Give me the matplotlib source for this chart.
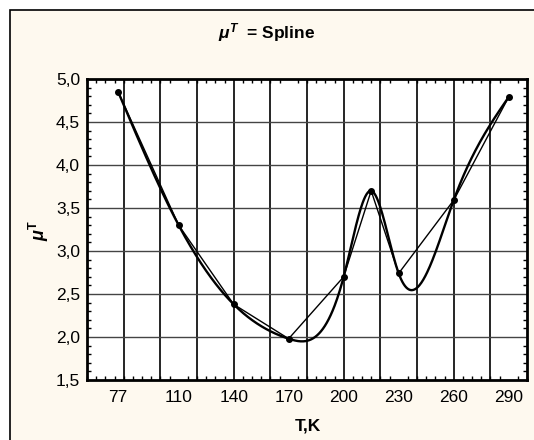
import numpy as np
import matplotlib
matplotlib.use("Agg")
import matplotlib.pyplot as plt
from matplotlib.ticker import MultipleLocator, FixedLocator, FuncFormatter

# ---- data ----
temps = [77, 110, 140, 170, 200, 215, 230, 260, 290]
mu_t = [4.85, 3.30, 2.38, 1.98, 2.70, 3.70, 2.74, 3.59, 4.79]
x_tick_labels = [77, 110, 140, 170, 200, 230, 260, 290]
y_ticks = [1.5, 2.0, 2.5, 3.0, 3.5, 4.0, 4.5, 5.0]

plt.rcParams['font.family'] = ['Liberation Sans', 'DejaVu Sans']
plt.rcParams['mathtext.fontset'] = 'custom'
plt.rcParams['mathtext.rm'] = 'Liberation Sans'
plt.rcParams['mathtext.bf'] = 'Liberation Sans:bold'
plt.rcParams['mathtext.it'] = 'Liberation Sans:italic'
plt.rcParams['mathtext.bfit'] = 'Liberation Sans:bold:italic'


def natural_spline(x, y, xs):
    x = np.asarray(x, float); y = np.asarray(y, float)
    n = len(x)
    h = np.diff(x)
    A = np.zeros((n, n)); b = np.zeros(n)
    A[0, 0] = 1; A[-1, -1] = 1
    for i in range(1, n - 1):
        A[i, i - 1] = h[i - 1]
        A[i, i] = 2 * (h[i - 1] + h[i])
        A[i, i + 1] = h[i]
        b[i] = 3 * ((y[i + 1] - y[i]) / h[i] - (y[i] - y[i - 1]) / h[i - 1])
    c = np.linalg.solve(A, b)
    out = np.empty_like(xs)
    for k, xv in enumerate(xs):
        i = min(max(np.searchsorted(x, xv) - 1, 0), n - 2)
        bi = (y[i + 1] - y[i]) / h[i] - h[i] * (2 * c[i] + c[i + 1]) / 3
        di = (c[i + 1] - c[i]) / (3 * h[i])
        dx = xv - x[i]
        out[k] = y[i] + bi * dx + c[i] * dx ** 2 + di * dx ** 3
    return out


fig = plt.figure(figsize=(5.34, 4.40), dpi=100)
fig.patch.set_facecolor('white')
bg = plt.Rectangle((10 / 534, -0.01), 1.0, 1.0 - 10 / 440 + 0.01, transform=fig.transFigure,
                   facecolor='#fef9ef', edgecolor='black', linewidth=1.2, zorder=-10)
fig.patches.append(bg)

ax = fig.add_axes([87 / 534, 60 / 440, 440 / 534, 301 / 440])
ax.set_facecolor('white')

xs = np.linspace(temps[0], temps[-1], 600)
ys = natural_spline(temps, mu_t, xs)
ax.plot(xs, ys, color='black', lw=1.7, zorder=3)
ax.plot(temps, mu_t, color='black', lw=1.0, marker='o', ms=4, zorder=4)

ax.set_xlim(60, 300)
ax.set_ylim(1.5, 5.0)

for gx in range(80, 300, 20):
    ax.axvline(gx, color='black', lw=1.2, zorder=1)
for gy in y_ticks[1:-1]:
    ax.axhline(gy, color='#444444', lw=1.0, zorder=1)

ax.xaxis.set_major_locator(FixedLocator(x_tick_labels))
ax.set_xticklabels([str(v) for v in x_tick_labels])
ax.xaxis.set_minor_locator(MultipleLocator(5))
ax.yaxis.set_major_locator(FixedLocator(y_ticks))
ax.yaxis.set_major_formatter(FuncFormatter(lambda v, p: f"{v:.1f}".replace('.', ',')))
ax.yaxis.set_minor_locator(MultipleLocator(0.1))

ax.tick_params(axis='x', which='major', length=0, pad=7, labelsize=12.5)
ax.tick_params(axis='y', which='major', length=0, pad=5, labelsize=12.5)
ax.tick_params(which='minor', direction='in', length=3, width=1, top=True, right=True)

for s in ax.spines.values():
    s.set_linewidth(2)
    s.set_color('black')

fig.text(0.5, 1 - 33 / 440, r'$\mathbfit{\mu}^{\mathbfit{T}}$  = Spline', ha='center', va='center',
         fontsize=12.5, fontweight='bold')
fig.text(308 / 534, 1 - 426 / 440, 'T,K', ha='center', va='center', fontsize=12.5, fontweight='bold')
fig.text(39 / 534, 1 - 231 / 440, r'$\mathbfit{\mu}^{\mathbf{T}}$', ha='center', va='center',
         fontsize=13, rotation=90)

fig.savefig('out.png', dpi=100, facecolor=fig.get_facecolor())
